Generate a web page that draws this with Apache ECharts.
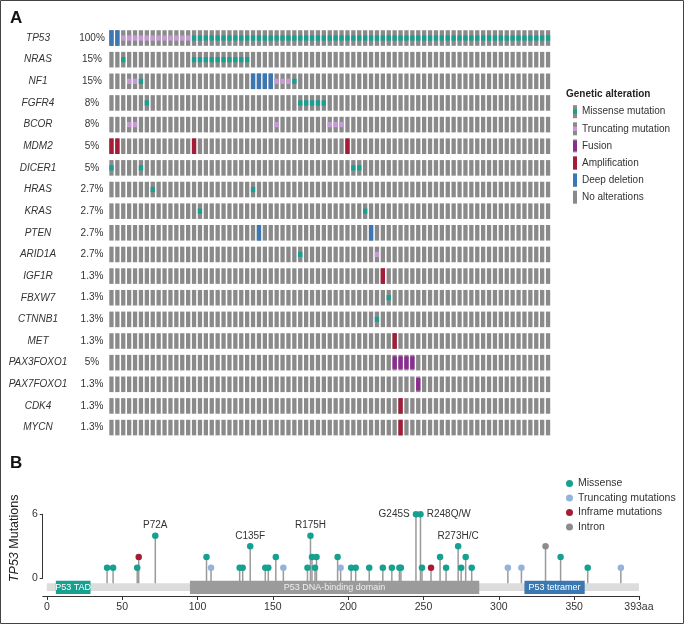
<!DOCTYPE html>
<html><head><meta charset="utf-8">
<script src="https://cdn.jsdelivr.net/npm/echarts@6/dist/echarts.min.js"></script>
<style>html,body{margin:0;padding:0;background:#fff}#c{width:684px;height:624px}</style>
</head><body><div id="c"></div>
<script>
// ---------- Panel A data ----------
const genes = ['TP53','NRAS','NF1','FGFR4','BCOR','MDM2','DICER1','HRAS','KRAS','PTEN','ARID1A','IGF1R','FBXW7','CTNNB1','MET','PAX3FOXO1','PAX7FOXO1','CDK4','MYCN'];
const genePct = ['100%','15%','15%','8%','8%','5%','5%','2.7%','2.7%','2.7%','2.7%','1.3%','1.3%','1.3%','1.3%','5%','1.3%','1.3%','1.3%'];
const nSamples = 75;
// one character per sample: M missense, T truncating, F fusion, A amplification, D deep deletion, . none
const alterations = [
  'DDTTTTTTTT'+'TTTTMMMMMM'+'MMMMMMMMMM'+'MMMMMMMMMM'+'MMMMMMMMMM'+'MMMMMMMMMM'+'MMMMMMMMMM'+'MMMMM',
  '..M.......'+'....MMMMMM'+'MMMM......',
  '...TTM....'+'..........'+'....DDDDTT'+'TM........',
  '......M...'+'..........'+'..........'+'..MMMMM...',
  '...TT.....'+'..........'+'........T.'+'.......TTT',
  'AA........'+'....A.....'+'..........'+'..........'+'A.........',
  'M....M....'+'..........'+'..........'+'..........'+'.MM.......',
  '.......M..'+'..........'+'....M.....',
  '..........'+'.....M....'+'..........'+'..........'+'...M......',
  '..........'+'..........'+'.....D....'+'..........'+'....D.....',
  '..........'+'..........'+'..........'+'..M.......'+'.....T....',
  '..........'+'..........'+'..........'+'..........'+'......A...',
  '..........'+'..........'+'..........'+'..........'+'.......M..',
  '..........'+'..........'+'..........'+'..........'+'.....M....',
  '..........'+'..........'+'..........'+'..........'+'........A.',
  '..........'+'..........'+'..........'+'..........'+'........FF'+'FF........',
  '..........'+'..........'+'..........'+'..........'+'..........'+'..F.......',
  '..........'+'..........'+'..........'+'..........'+'.........A',
  '..........'+'..........'+'..........'+'..........'+'.........A'
];
const altCodes = ['M','T','F','A','D','.'];
const altNames = ['Missense mutation','Truncating mutation','Fusion','Amplification','Deep deletion','No alterations'];

// ---------- Panel B data ----------
const proteinLength = 393;
const xTicks = [0,50,100,150,200,250,300,350,393];
const domainNames = ['P53 TAD','P53 DNA-binding domain','P53 tetramer'];
const domainStart = [6,95,317];
const domainEnd = [29,287,357];
const missense = [[40,1],[44,1],[60,1],[72,4],[106,2],[128,1],[130,1],[135,3],[145,1],[147,1],[152,2],[173,1],[175,4],[176,2],[178,1],[179,2],[193,2],[202,1],[205,1],[214,1],[223,1],[229,1],[234,1],[235,1],[245,6],[248,6],[249,1],[261,2],[265,1],[273,3],[275,1],[278,2],[282,1],[341,2],[359,1]];
const truncating = [[109,1],[157,1],[195,1],[306,1],[315,1],[381,1]];
const inframe = [[61,2],[255,1]];
const intron = [[331,3]];
const hotspotPos = [72,135,175,245,248,273];
const hotspotNames = ['P72A','C135F','R175H','G245S','R248Q/W','R273H/C'];
const mutTypeNames = ['Missense','Truncating mutations','Inframe mutations','Intron'];

// ---------- styles ----------
const FONT = '"Liberation Sans", Arial, Helvetica, sans-serif';
const COL = {gray:'#8a8a8a', M:'#17a08f', T:'#c79ad5', F:'#8e2a93', A:'#a41c36', D:'#3b77b3'};
const mutColors = ['#17a08f','#93b3d9','#a41c36','#8c8c8c'];
const domainColors = ['#17a08f','#9b9b9b','#3a78b1'];
const labelPos = {'P72A':'top','C135F':'top','R175H':'top','G245S':'left','R248Q/W':'right','R273H/C':'top'};

const cells = [];
alterations.forEach((s, r) => {
  const str = s.padEnd(nSamples, '.');
  for (let c = 0; c < nSamples; c++) cells.push([c, r, altCodes.indexOf(str[c])]);
});

function cellShapes(t, x0, y0, w, h) {
  const ch = [{type:'rect', shape:{x:x0,y:y0,width:w,height:h}, style:{fill:COL.gray}}];
  if (t === 'A' || t === 'D') ch.push({type:'rect', shape:{x:x0,y:y0,width:w,height:h}, style:{fill:COL[t]}});
  else if (t === 'F') ch.push({type:'rect', shape:{x:x0,y:y0+h*0.1,width:w,height:h*0.8}, style:{fill:COL.F}});
  else if (t === 'M' || t === 'T') ch.push({type:'rect', shape:{x:x0,y:y0+h*0.33,width:w,height:h*0.34}, style:{fill:COL[t]}});
  return ch;
}

function renderCell(params, api) {
  const c = api.coord([api.value(0), api.value(1)]);
  const sz = api.size([1,1]);
  const w = sz[0]*0.73, h = sz[1]*0.72;
  return {type:'group', children: cellShapes(altCodes[api.value(2)], c[0]-w/2, c[1]-h/2, w, h)};
}

// legend A graphic
const legendA = [{type:'text', x:566, y:94, style:{text:'Genetic alteration', font:'bold 10px '+FONT, fill:'#222', verticalAlign:'middle'}}];
altCodes.forEach((t, i) => {
  const yc = 111.7 + i*17.1;
  legendA.push({type:'group', x:0, y:0, children: cellShapes(t, 573, yc-6.5, 4, 13)});
  legendA.push({type:'text', x:582, y:yc, style:{text:altNames[i], font:'10px '+FONT, fill:'#333', verticalAlign:'middle'}});
});

// Panel B series
const allMuts = [].concat(missense, truncating, inframe, intron);
function renderStem(params, api) {
  const a = api.coord([api.value(0), -0.47]);
  const b = api.coord([api.value(0), api.value(1)]);
  return {type:'line', shape:{x1:a[0],y1:a[1],x2:b[0],y2:b[1]}, style:{stroke:'#9a9a9a', lineWidth:1.5}};
}
function renderProtein(params, api) {
  const a = api.coord([0, -0.47]);
  const b = api.coord([api.value(0), -1.2]);
  return {type:'rect', shape:{x:a[0],y:a[1],width:b[0]-a[0],height:b[1]-a[1]}, style:{fill:'#dcdcdc'}};
}
function renderDomain(params, api) {
  const i = params.dataIndex;
  const a = api.coord([api.value(0), -0.22]);
  const b = api.coord([api.value(1), -1.47]);
  return {type:'group', children:[
    {type:'rect', shape:{x:a[0],y:a[1],width:b[0]-a[0],height:b[1]-a[1]}, style:{fill:domainColors[i]}},
    {type:'text', x:(a[0]+b[0])/2, y:(a[1]+b[1])/2, style:{text:domainNames[i], font:'9px '+FONT, fill: i===1 ? '#eeeeee' : '#ffffff', align:'center', verticalAlign:'middle'}}
  ]};
}
function dotData(arr) {
  return arr.map(p => {
    const k = hotspotPos.indexOf(p[0]);
    if (k >= 0 && p[1] >= 3) {
      const nm = hotspotNames[k];
      return {value:p, label:{show:true, position:labelPos[nm], distance: labelPos[nm]==='top'?2:3, formatter:nm, fontSize:10, color:'#333', fontFamily:FONT}};
    }
    return {value:p};
  });
}
const dotSeries = [missense, truncating, inframe, intron].map((arr, i) => ({
  type:'scatter', name:mutTypeNames[i], xAxisIndex:1, yAxisIndex:1, symbol:'circle', symbolSize:6.5,
  itemStyle:{color:mutColors[i], opacity:1}, data:dotData(arr), z:5, clip:false, emphasis:{disabled:true}
}));

const chart = echarts.init(document.getElementById('c'));
chart.setOption({
  animation:false,
  backgroundColor:'#fff',
  textStyle:{fontFamily:FONT},
  grid:[
    {left:108.5, top:27.2, width:442.5, height:411.2},
    {left:42.7, top:514.3, width:597, height:64}
  ],
  xAxis:[
    {gridIndex:0, type:'category', data:cells.slice(0,nSamples).map(d=>d[0]), show:false},
    {gridIndex:1, type:'value', min:-2.7, max:393.5, offset:17.7, position:'bottom',
     axisLine:{show:true, onZero:false, lineStyle:{color:'#333', width:1}},
     axisTick:{show:true, length:4, customValues:xTicks, lineStyle:{color:'#333'}},
     axisLabel:{customValues:xTicks, color:'#333', fontSize:10.5, margin:6, formatter:v => v===proteinLength ? proteinLength+'aa' : String(v)},
     splitLine:{show:false}}
  ],
  yAxis:[
    {gridIndex:0, type:'category', data:genes, inverse:true, axisLine:{show:false}, axisTick:{show:false},
     axisLabel:{margin:1.5, color:'#333', formatter:(v,i)=>'{g|'+v+'}{p|'+genePct[i]+'}',
       rich:{g:{width:74, align:'center', fontStyle:'italic', fontSize:10, color:'#333', fontFamily:FONT},
             p:{width:30, align:'left', padding:[0,0,0,2], fontSize:10, color:'#333', fontFamily:FONT}}}},
    {gridIndex:1, type:'value', min:0, max:6, interval:6,
     axisLine:{show:true, onZero:false, lineStyle:{color:'#333'}},
     axisTick:{show:true, length:3, lineStyle:{color:'#333'}},
     axisLabel:{color:'#333', fontSize:10.5, margin:5},
     splitLine:{show:false},
     name:'{i|TP53} Mutations', nameLocation:'middle', nameRotate:90, nameGap:13,
     nameTextStyle:{fontSize:12.5, color:'#222', padding:[0,0,0,16], rich:{i:{fontStyle:'italic', fontSize:12.5, color:'#222'}}}}
  ],
  legend:{data:mutTypeNames, orient:'vertical', left:561, top:473, icon:'circle', itemWidth:7, itemHeight:7, itemGap:3.5,
    textStyle:{fontSize:10.5, color:'#333', fontFamily:FONT}, selectedMode:false},
  graphic:[
    {type:'rect', shape:{x:0.5,y:0.5,width:683,height:623}, style:{fill:null, stroke:'#444', lineWidth:1}},
    {type:'text', x:10, y:10, style:{text:'A', font:'bold 17px '+FONT, fill:'#111'}},
    {type:'text', x:10, y:455, style:{text:'B', font:'bold 17px '+FONT, fill:'#111'}}
  ].concat(legendA),
  series:[
    {type:'custom', xAxisIndex:0, yAxisIndex:0, data:cells, renderItem:renderCell, silent:true},
    {type:'custom', xAxisIndex:1, yAxisIndex:1, data:[[proteinLength]], renderItem:renderProtein, clip:false, silent:true, z:1},
    {type:'custom', xAxisIndex:1, yAxisIndex:1, data:allMuts, renderItem:renderStem, clip:false, silent:true, z:2},
    {type:'custom', xAxisIndex:1, yAxisIndex:1, data:domainStart.map((s,i)=>[s, domainEnd[i]]), renderItem:renderDomain, clip:false, silent:true, z:3}
  ].concat(dotSeries)
});
</script>
</body></html>
